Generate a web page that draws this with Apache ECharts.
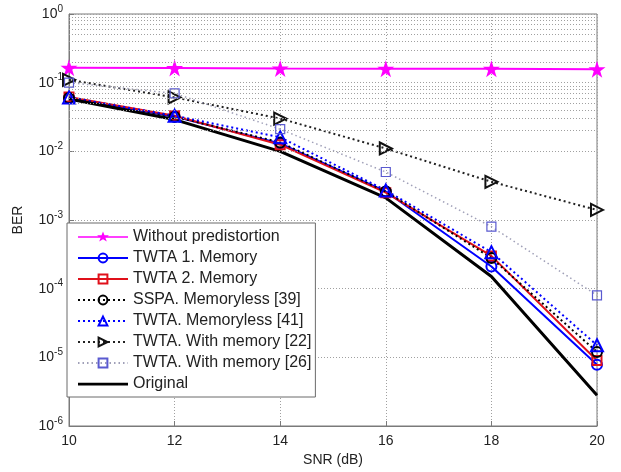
<!DOCTYPE html>
<html>
<head>
<meta charset="utf-8">
<script src="https://cdn.jsdelivr.net/npm/echarts@6/dist/echarts.min.js"></script>
<style>
  html, body { margin: 0; padding: 0; background: #fff; }
  #chart { width: 621px; height: 472px; }
</style>
</head>
<body>
<div id="chart"></div>
<script>
// SNR axis (dB)
const snr = [10, 12, 14, 16, 18, 20];
const xTicks = [10, 12, 14, 16, 18, 20];

// BER per curve
const withoutPredistortion = [0.165, 0.163, 0.161, 0.160, 0.159, 0.157];
const twta1Memory          = [0.060, 0.032, 0.013, 0.0026, 0.00021, 7.8e-6];
const twta2Memory          = [0.062, 0.033, 0.0125, 0.0025, 0.00030, 9.0e-6];
const sspaMemoryless39     = [0.060, 0.032, 0.0135, 0.0026, 0.00028, 1.2e-5];
const twtaMemoryless41     = [0.061, 0.033, 0.016, 0.0027, 0.00034, 1.5e-5];
const twtaWithMemory22     = [0.110, 0.061, 0.030, 0.011, 0.0036, 0.0014];
const twtaWithMemory26     = [0.100, 0.070, 0.021, 0.0050, 0.00080, 8.0e-5];
const original             = [0.058, 0.029, 0.010, 0.0021, 0.00015, 2.8e-6];

const pairs = ys => snr.map((x, i) => [x, ys[i]]);

// minor log grid levels 2..9 per decade
const minorLevels = [];
for (let e = -6; e < 0; e++) {
  for (let m = 2; m <= 9; m++) minorLevels.push(m * Math.pow(10, e));
}

const STAR = 'path://M50 0 L61.23 34.55 L97.55 34.55 L68.16 55.9 L79.39 90.45 L50 69.1 L20.61 90.45 L31.84 55.9 L2.45 34.55 L38.77 34.55 Z';
// legend icons drawn in a 50x12 box: tiny corner specks pin the box size
const PIN = 'M0 0 L0.05 0 L0 0.05 Z M50 12 L49.95 12 L50 11.95 Z ';
const LEGEND_STAR = 'path://' + PIN +
  'M0 5.2 H50 V6.8 H0 Z ' +
  'M25 0 L26.5 4.1 L31 4.1 L27.4 6.7 L28.8 11 L25 8.4 L21.2 11 L22.6 6.7 L19 4.1 L23.5 4.1 Z';
const LEGEND_THICK = 'path://' + PIN + 'M0 4.5 H50 V7.5 H0 Z';

const FONT = '"Liberation Sans", Arial, sans-serif';
const hollow = c => ({ color: 'rgba(255,255,255,0)', borderColor: c, borderWidth: 2 });

const chart = echarts.init(document.getElementById('chart'), null, { renderer: 'canvas' });

const gridDots = { color: '#a0a0a0', width: 1, type: [1, 2] };

chart.setOption({
  animation: false,
  backgroundColor: '#fff',
  textStyle: { fontFamily: FONT },
  grid: { left: 69, right: 24, top: 14, bottom: 43, show: true, borderColor: '#7a7a7a', borderWidth: 1, backgroundColor: '#fff' },
  legend: {
    orient: 'vertical',
    left: 67, top: 223,
    backgroundColor: '#fff',
    borderColor: '#6a6a6a', borderWidth: 1, borderRadius: 0,
    padding: [6, 4, 5, 10],
    itemWidth: 50, itemHeight: 11, itemGap: 5,
    symbolKeepAspect: false,
    textStyle: { fontFamily: FONT, fontSize: 16, lineHeight: 16, color: '#222' },
    data: [
      { name: 'Without predistortion', icon: LEGEND_STAR },
      'TWTA 1. Memory', 'TWTA 2. Memory', 'SSPA. Memoryless [39]',
      'TWTA. Memoryless [41]', 'TWTA. With memory [22]', 'TWTA. With memory [26]',
      { name: 'Original', icon: LEGEND_THICK }
    ]
  },
  xAxis: {
    type: 'value', min: 10, max: 20, interval: 2,
    name: 'SNR (dB)', nameLocation: 'middle', nameGap: 27,
    nameTextStyle: { fontFamily: FONT, fontSize: 14, color: '#222' },
    axisLine: { lineStyle: { color: '#7a7a7a' } },
    axisTick: { inside: true, length: 5, lineStyle: { color: '#7a7a7a' } },
    axisLabel: { fontFamily: FONT, fontSize: 14, color: '#222', margin: 8,
                 formatter: v => xTicks.includes(v) ? String(v) : '' },
    splitLine: { show: true, lineStyle: gridDots }
  },
  yAxis: {
    type: 'log', logBase: 10, min: 1e-6, max: 1,
    name: 'BER', nameLocation: 'middle', nameGap: 44, nameRotate: 90,
    nameTextStyle: { fontFamily: FONT, fontSize: 14, color: '#222' },
    axisLine: { show: true, lineStyle: { color: '#7a7a7a' } },
    axisTick: { inside: true, length: 5, lineStyle: { color: '#7a7a7a' } },
    axisLabel: {
      fontFamily: FONT, fontSize: 14, color: '#222', margin: 6,
      formatter: v => '10{s|' + Math.round(Math.log10(v)) + '}',
      rich: { s: { fontSize: 10, verticalAlign: 'top', padding: [0, 0, 10, 0], fontFamily: FONT, color: '#222' } }
    },
    splitLine: { show: true, lineStyle: gridDots }
  },
  series: [
    {
      name: 'grid-minor', type: 'line', data: [], silent: true,
      markLine: {
        silent: true, symbol: 'none', label: { show: false },
        lineStyle: gridDots,
        data: minorLevels.map(v => ({ yAxis: v }))
      }
    },
    {
      name: 'Without predistortion', type: 'line', data: pairs(withoutPredistortion),
      symbol: STAR, symbolSize: 17,
      lineStyle: { color: '#ff00ff', width: 2 },
      itemStyle: { color: '#ff00ff', borderWidth: 0 }
    },
    {
      name: 'TWTA 1. Memory', type: 'line', data: pairs(twta1Memory),
      symbol: 'circle', symbolSize: 10,
      lineStyle: { color: '#0000ff', width: 2 },
      itemStyle: hollow('#0000ff')
    },
    {
      name: 'TWTA 2. Memory', type: 'line', data: pairs(twta2Memory),
      symbol: 'rect', symbolSize: 9,
      lineStyle: { color: '#e0101a', width: 2 },
      itemStyle: hollow('#e0101a')
    },
    {
      name: 'SSPA. Memoryless [39]', type: 'line', data: pairs(sspaMemoryless39),
      symbol: 'circle', symbolSize: 10,
      lineStyle: { color: '#000', width: 2, type: [2, 3] },
      itemStyle: hollow('#000')
    },
    {
      name: 'TWTA. Memoryless [41]', type: 'line', data: pairs(twtaMemoryless41),
      symbol: 'triangle', symbolSize: 12,
      lineStyle: { color: '#0000ff', width: 2, type: [2, 3] },
      itemStyle: hollow('#0000ff')
    },
    {
      name: 'TWTA. With memory [22]', type: 'line', data: pairs(twtaWithMemory22),
      symbol: 'triangle', symbolSize: 12, symbolRotate: -90,
      lineStyle: { color: '#222', width: 2, type: [2, 3] },
      itemStyle: hollow('#111')
    },
    {
      name: 'TWTA. With memory [26]', type: 'line', data: pairs(twtaWithMemory26),
      symbol: 'rect', symbolSize: 9,
      lineStyle: { color: '#a0a0b8', width: 1.5, type: [1.5, 3] },
      itemStyle: { color: 'rgba(255,255,255,0)', borderColor: '#5a5ad0', borderWidth: 1.2 }
    },
    {
      name: 'Original', type: 'line', data: pairs(original),
      symbol: 'none',
      lineStyle: { color: '#000', width: 3 },
      itemStyle: { color: '#000' }
    }
  ]
});
</script>
</body>
</html>
